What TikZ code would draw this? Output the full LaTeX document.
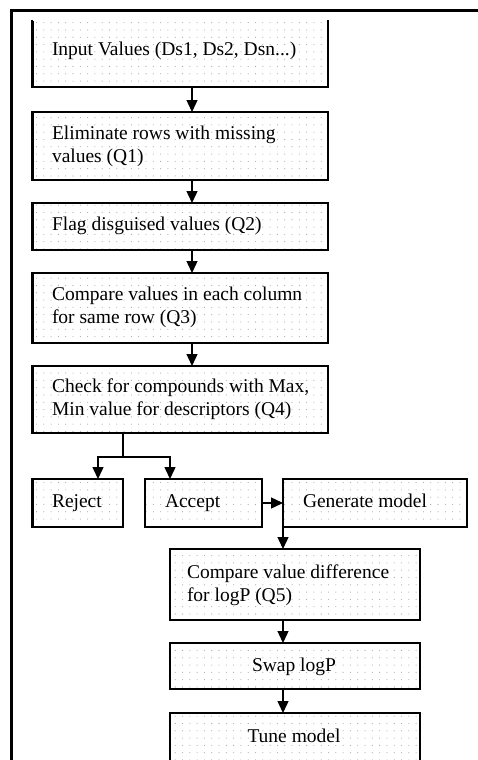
\documentclass[tikz,border=0pt]{standalone}
\usepackage{fontspec}
\setmainfont{Liberation Serif}
\usetikzlibrary{arrows.meta,patterns,calc}
\pgfdeclarepatternformonly{mydots}{\pgfqpoint{-1pt}{-1pt}}{\pgfqpoint{1pt}{1pt}}{\pgfqpoint{7.3pt}{7.3pt}}{\pgfpathcircle{\pgfqpoint{0pt}{0pt}}{0.55pt}\pgfusepath{fill}}
\newcommand\twol[2]{\begin{tabular}[t]{@{}l@{}}#1\\#2\end{tabular}}
\begin{document}
\begin{tikzpicture}[x=1pt,y=-1pt,
  box/.style={draw=black, line width=1.4pt, pattern=mydots, pattern color=black!35, inner sep=0pt, outer sep=0pt},
  nobox/.style={draw=none, pattern=mydots, pattern color=black!35, inner sep=0pt, outer sep=0pt},
  edge/.style={line width=1.4pt, line cap=rect},
  thickedge/.style={line width=3pt},
  arr/.style={line width=1.4pt, -{Triangle[width=11pt,length=12pt]}},
  lbl/.style={inner sep=0pt, outer sep=0pt, anchor=base west, font=\fontsize{19.5}{23}\selectfont},
  clbl/.style={inner sep=0pt, outer sep=0pt, anchor=base, font=\fontsize{19.5}{23}\selectfont},
  frame/.style={line width=3pt}]
\useasboundingbox (0,0) rectangle (478,760);
\clip (0,0) rectangle (478,760);
\fill[white] (0,0) rectangle (478,760);

% outer frame
\coordinate (fbl) at (11,770);
\coordinate (ftl) at (11,11);
\coordinate (ftr) at (490,11);
\draw[frame] (fbl) -- (ftl) -- (ftr);

% boxes
\node[nobox, minimum width=296pt, minimum height=66pt] (b1) at (180,54) {};
\draw[edge] (b1.north west) -- (b1.south west) -- (b1.south east) -- (b1.north east);
\node[box, minimum width=296pt, minimum height=68pt] (b2) at (180,146) {};
\node[box, minimum width=296pt, minimum height=47pt] (b3) at (180,226.5) {};
\node[box, minimum width=296pt, minimum height=70pt] (b4) at (180,308) {};
\node[box, minimum width=296pt, minimum height=67pt] (b5) at (180,399.5) {};
\node[box, minimum width=91pt, minimum height=48pt] (rej) at (77.5,503) {};
\node[box, minimum width=117pt, minimum height=48pt] (acc) at (203.5,503) {};
\node[box, minimum width=184pt, minimum height=48pt] (gen) at (375,503) {};
\node[box, minimum width=250pt, minimum height=71pt] (cmp) at (295,584.5) {};
\node[box, minimum width=250pt, minimum height=46pt] (swp) at (295,666) {};
\node[box, minimum width=250pt, minimum height=80pt] (tun) at (295,753) {};

% thick left edges
\foreach \n in {b1,b2,b3,b4,b5,rej}{\draw[thickedge] (\n.north west) -- (\n.south west);}

% labels
\node[lbl] (t1) at (52,56) {Input Values (Ds1, Ds2, Dsn...)};
\node[lbl] (t2) at (52,139) {\twol{Eliminate rows with missing}{values (Q1)}};
\node[lbl] (t3) at (52,230) {Flag disguised values (Q2)};
\node[lbl] (t4) at (52,300) {\twol{Compare values in each column}{for same row (Q3)}};
\node[lbl] (t5) at (52,392) {\twol{Check for compounds with Max,}{Min value for descriptors (Q4)}};
\node[lbl] (trej) at (52,507) {Reject};
\node[lbl] (tacc) at (165,507) {Accept};
\node[lbl] (tgen) at (303,507) {Generate model};
\node[lbl] (tcmp) at (187,578) {\twol{Compare value difference}{for logP (Q5)}};
\node[clbl] (tswp) at (294,671) {Swap logP};
\node[clbl] (ttun) at (294,742) {Tune model};

% connectors
\draw[arr] ([xshift=12pt]b1.south) -- ([xshift=12pt]b2.north);
\draw[arr] ([xshift=12pt]b2.south) -- ([xshift=12pt]b3.north);
\draw[arr] ([xshift=12pt]b3.south) -- ([xshift=12pt]b4.north);
\draw[arr] ([xshift=12pt]b4.south) -- ([xshift=12pt]b5.north);
\coordinate (split) at ($(b5.south west)+(91,24)$);
\draw[edge, line cap=butt] ([xshift=91pt]b5.south west) -- (split);
\draw[arr] (split) -| ([xshift=20.5pt]rej.north);
\draw[arr] (split) -| ([xshift=25pt]acc.north west);
\draw[arr] (acc.east) -- (gen.west);
\draw[arr] (gen.south west) -- (gen.south west |- cmp.north);
\draw[arr] (cmp.south -| gen.south west) -- (swp.north -| gen.south west);
\draw[arr] (swp.south -| gen.south west) -- (tun.north -| gen.south west);
\end{tikzpicture}
\end{document}
